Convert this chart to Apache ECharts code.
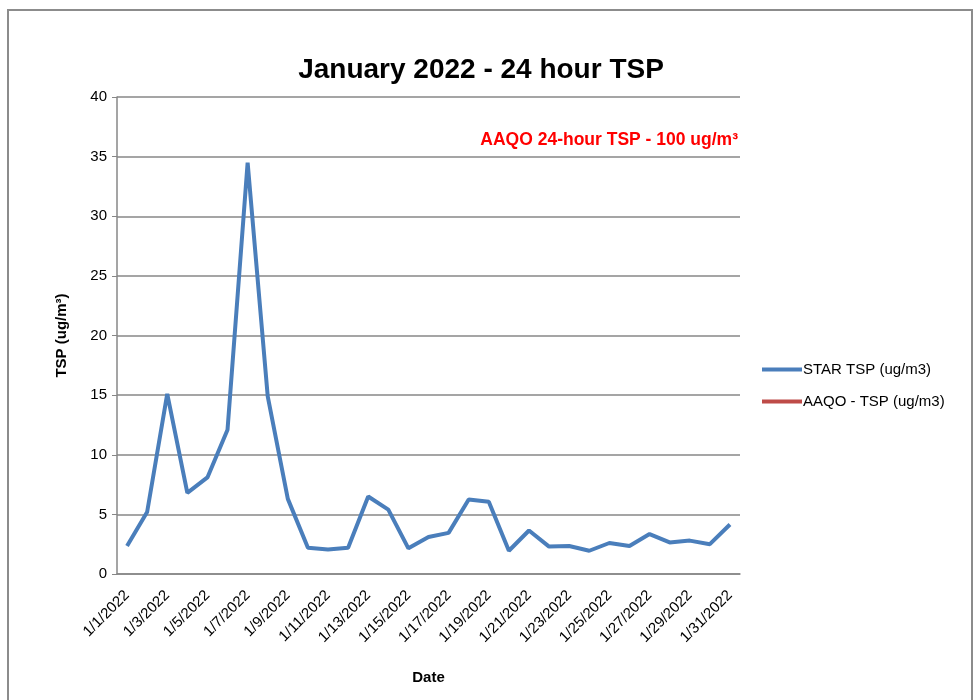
<!DOCTYPE html>
<html>
<head>
<meta charset="utf-8">
<script src="https://cdn.jsdelivr.net/npm/echarts@6/dist/echarts.min.js"></script>
<style>
  html, body { margin: 0; padding: 0; background: #fff; }
  #chart { width: 973px; height: 700px; }
</style>
</head>
<body>
<div id="chart"></div>
<script>
// dates on the x axis
var dates = [
  '1/1/2022', '1/2/2022', '1/3/2022', '1/4/2022', '1/5/2022', '1/6/2022', '1/7/2022', '1/8/2022',
  '1/9/2022', '1/10/2022', '1/11/2022', '1/12/2022', '1/13/2022', '1/14/2022', '1/15/2022', '1/16/2022',
  '1/17/2022', '1/18/2022', '1/19/2022', '1/20/2022', '1/21/2022', '1/22/2022', '1/23/2022', '1/24/2022',
  '1/25/2022', '1/26/2022', '1/27/2022', '1/28/2022', '1/29/2022', '1/30/2022', '1/31/2022'
]
// STAR TSP (ug/m3)
var starTsp = [
  2.35, 5.2, 15.1, 6.8, 8.1, 12.1, 34.5, 14.9, 6.3, 2.2, 2.05,
  2.2, 6.5, 5.4, 2.15, 3.1, 3.45, 6.25, 6.05, 1.95, 3.65,
  2.3, 2.35, 1.95, 2.6, 2.35, 3.35, 2.65, 2.8, 2.5, 4.15
]
// AAQO limit is 100, off the visible scale
var aaqoTsp = []

var yTicks = { min: 0, max: 40, interval: 5 }

var font = 'Liberation Sans'
var gridColor = '#878787'

var chart = echarts.init(document.getElementById('chart'))
var option = {
  backgroundColor: '#fff',
  animation: false,
  title: {
    text: 'January 2022 - 24 hour TSP',
    left: 476,
    textAlign: 'center',
    top: 51,
    textStyle: { fontFamily: font, fontSize: 28, fontWeight: 'bold', color: '#000' }
  },
  graphic: [
    {
      type: 'rect',
      shape: { x: 8, y: 10, width: 964, height: 700 },
      style: { fill: 'none', stroke: '#8c8c8c', lineWidth: 2 },
      silent: true
    },
    {
      type: 'text',
      right: 235,
      top: 131,
      style: {
        text: 'AAQO 24-hour TSP - 100 ug/m³',
        fill: '#ff0000',
        font: 'bold 17.5px "Liberation Sans"'
      }
    }
  ],
  legend: {
    orient: 'vertical',
    left: 757,
    top: 357,
    itemWidth: 40,
    itemHeight: 4,
    itemGap: 17,
    icon: 'rect',
    textStyle: { fontFamily: font, fontSize: 15, color: '#000', padding: [0, 0, 0, -4] },
    data: ['STAR TSP (ug/m3)', 'AAQO - TSP (ug/m3)']
  },
  grid: { left: 117, right: 233, top: 97, bottom: 126, containLabel: false },
  xAxis: {
    type: 'category',
    data: dates,
    boundaryGap: true,
    name: 'Date',
    nameLocation: 'middle',
    nameGap: 96,
    nameTextStyle: { fontFamily: font, fontSize: 15, fontWeight: 'bold', color: '#000' },
    axisLine: { lineStyle: { color: gridColor, width: 1.5 } },
    axisTick: { interval: 1, length: 5, lineStyle: { color: gridColor } },
    axisLabel: {
      interval: 1,
      rotate: 45,
      fontFamily: font,
      fontSize: 15,
      color: '#000',
      margin: 19
    },
    splitLine: { show: false }
  },
  yAxis: {
    type: 'value',
    min: yTicks.min,
    max: yTicks.max,
    interval: yTicks.interval,
    name: 'TSP (ug/m³)',
    nameLocation: 'middle',
    nameGap: 48,
    nameRotate: 90,
    nameTextStyle: { fontFamily: font, fontSize: 15, fontWeight: 'bold', color: '#000' },
    axisLine: { show: true, lineStyle: { color: gridColor, width: 1.5 } },
    axisTick: { show: true, length: 5, lineStyle: { color: gridColor } },
    axisLabel: { fontFamily: font, fontSize: 15, color: '#000', margin: 10 },
    splitLine: { show: true, lineStyle: { color: gridColor, width: 1.5 } }
  },
  series: [
    {
      name: 'STAR TSP (ug/m3)',
      type: 'line',
      data: starTsp,
      showSymbol: false,
      symbol: 'none',
      color: '#4a7ebb',
      lineStyle: { color: '#4a7ebb', width: 4 }
    },
    {
      name: 'AAQO - TSP (ug/m3)',
      type: 'line',
      data: aaqoTsp,
      symbol: 'none',
      color: '#be4b48',
      lineStyle: { color: '#be4b48', width: 4 }
    }
  ]
}
chart.setOption(option)
window.addEventListener('resize', () => { chart.resize() })
</script>
</body>
</html>
